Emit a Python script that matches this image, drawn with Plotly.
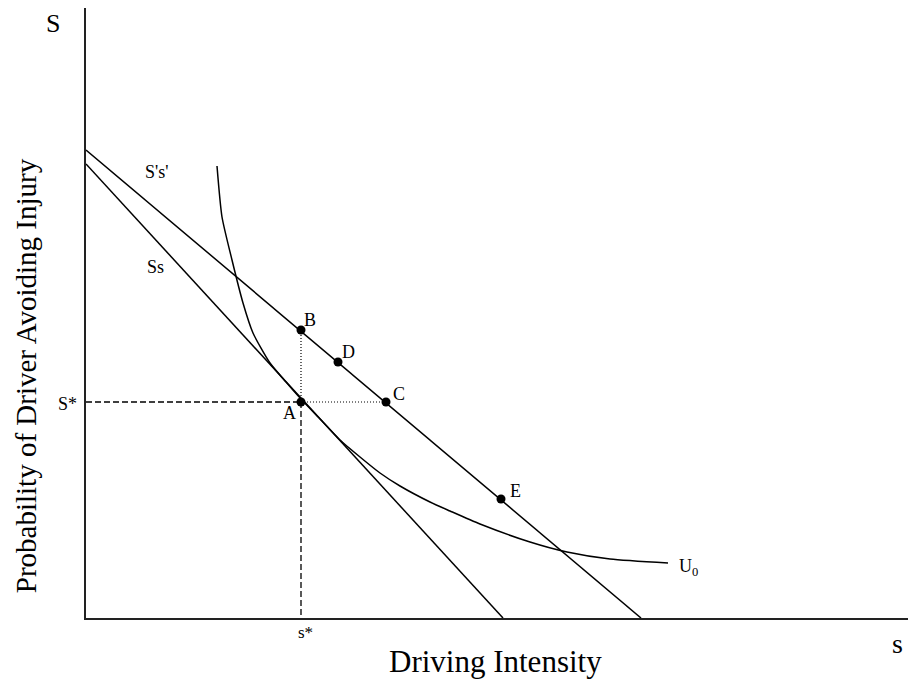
import plotly.graph_objects as go

# Budget lines (x = driving intensity, y = probability of avoiding injury)
ss_x = [0.0, 4.17]
ss_y = [4.54, 0.0]
sps_x = [0.0, 5.55]
sps_y = [4.68, 0.0]

# Indifference curve U0
u0_x = [1.31, 1.36, 1.46, 1.57, 1.67, 1.84, 2.00, 2.15, 2.34, 2.54, 2.74, 2.94,
        3.14, 3.44, 3.64, 3.94, 4.44, 4.81, 5.24, 5.82]
u0_y = [4.52, 4.01, 3.58, 3.15, 2.85, 2.55, 2.36, 2.19, 1.99, 1.78, 1.61, 1.45,
        1.32, 1.16, 1.07, 0.94, 0.76, 0.66, 0.59, 0.55]

# Labelled points
pt_names = ["A", "B", "D", "C", "E"]
pt_x = [2.15, 2.15, 2.52, 3.00, 4.15]
pt_y = [2.16, 2.88, 2.56, 2.16, 1.19]

s_star_x = 2.15
s_star_y = 2.16

FONT = "Liberation Serif"
fig = go.Figure()

line = dict(color="black", width=1.5)
fig.add_trace(go.Scatter(x=ss_x, y=ss_y, mode="lines", line=line, hoverinfo="skip"))
fig.add_trace(go.Scatter(x=sps_x, y=sps_y, mode="lines", line=line, hoverinfo="skip"))
fig.add_trace(go.Scatter(x=u0_x, y=u0_y, mode="lines",
                         line=dict(color="black", width=1.5, shape="spline", smoothing=0.6),
                         hoverinfo="skip"))

# dashed guides
dash = dict(color="black", width=1.3, dash="6px,3px")
fig.add_trace(go.Scatter(x=[0, s_star_x], y=[s_star_y, s_star_y], mode="lines", line=dash, hoverinfo="skip"))
fig.add_trace(go.Scatter(x=[s_star_x, s_star_x], y=[s_star_y, 0], mode="lines", line=dash, hoverinfo="skip"))
# dotted guides
dot = dict(color="black", width=1.2, dash="1px,2px")
fig.add_trace(go.Scatter(x=[pt_x[0], pt_x[1]], y=[pt_y[0], pt_y[1]], mode="lines", line=dot, hoverinfo="skip"))
fig.add_trace(go.Scatter(x=[pt_x[0], pt_x[3]], y=[pt_y[0], pt_y[3]], mode="lines", line=dot, hoverinfo="skip"))

fig.add_trace(go.Scatter(x=pt_x, y=pt_y, mode="markers",
                         marker=dict(color="black", size=9), hoverinfo="skip"))

ann = []
def add(text, x, y, size, xref="x", yref="y", angle=0):
    ann.append(dict(text=text, x=x, y=y, xref=xref, yref=yref, showarrow=False,
                    xanchor="center", yanchor="middle", textangle=angle,
                    font=dict(family=FONT, size=size, color="black")))

label_pos = {"A": (2.03, 2.05), "B": (2.24, 2.98), "D": (2.62, 2.66),
             "C": (3.13, 2.24), "E": (4.29, 1.27)}
for n in pt_names:
    add(n, label_pos[n][0], label_pos[n][1], 18)
add("U<sub>0</sub>", 6.02, 0.51, 18)
add("S's'", 0.71, 4.46, 18)
add("Ss", 0.69, 3.51, 18)

add("S", -0.0398, 0.975, 26, "paper", "paper")
add("S*", -0.0217, 0.351, 18, "paper", "paper")
add("s*", 0.2639, -0.023, 17, "paper", "paper")
add("s", 0.978, -0.0426, 28, "paper", "paper")
add("Driving Intensity", 0.4928, -0.0705, 31, "paper", "paper")
add("Probability of Driver Avoiding Injury", -0.0723, 0.398, 29, "paper", "paper", -90)

axis = dict(showgrid=False, zeroline=False, showticklabels=False, ticks="",
            showline=True, linecolor="#222", linewidth=1.5, mirror=False, fixedrange=True)
fig.update_layout(
    width=908, height=672,
    margin=dict(l=78, r=0, t=0, b=62),
    paper_bgcolor="white", plot_bgcolor="white",
    showlegend=False,
    xaxis=dict(range=[0, 8.30], **axis),
    yaxis=dict(range=[0, 6.10], **axis),
    annotations=ann,
)
fig.write_html("out.html")
